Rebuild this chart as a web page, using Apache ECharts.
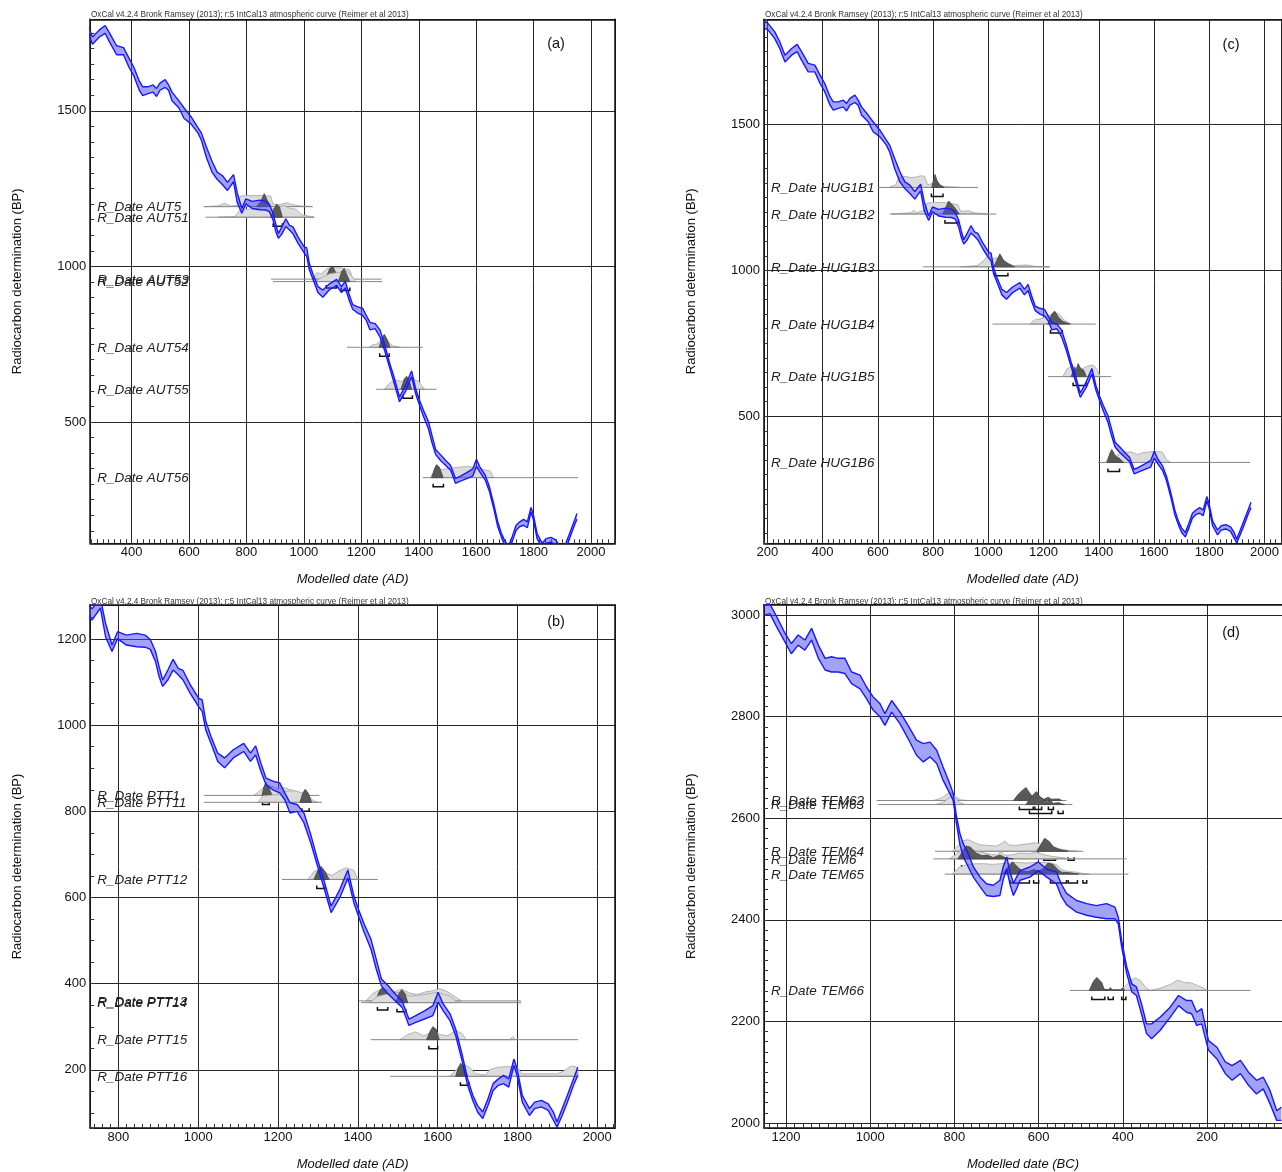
<!DOCTYPE html>
<html><head><meta charset="utf-8">
<script src="https://cdn.jsdelivr.net/npm/echarts@6/dist/echarts.min.js"></script>
<style>html,body{margin:0;padding:0;background:#fff}#c{width:1282px;height:1172px}</style>
</head><body><div id="c"></div>
<script>
// ---------- IntCal13 curve (AD part: panels a,b,c) ----------
const curveAD_year = [190,203,227,245,264,288,308,324,348,372,391,408,427,439,457,475,487,499,517,529,541,565,583,607,631,643,661,680,698,716,734,755,768,784,798,820,846,867,880,893,902,911,924,937,950,962,980,1001,1010,1019,1032,1049,1066,1088,1114,1131,1144,1157,1170,1187,1204,1217,1230,1248,1265,1282,1299,1312,1333,1355,1375,1390,1403,1416,1433,1446,1459,1476,1494,1511,1528,1545,1567,1588,1601,1614,1631,1645,1662,1675,1688,1700,1713,1726,1739,1752,1765,1778,1791,1799,1812,1830,1843,1860,1877,1890,1899,1912,1925,1942,1951];
const curveAD_hi = [1853,1845,1817,1783,1737,1760,1774,1749,1709,1703,1669,1640,1595,1577,1577,1583,1572,1589,1600,1583,1560,1532,1509,1481,1446,1429,1383,1338,1303,1292,1270,1295,1236,1186,1217,1209,1213,1209,1199,1171,1136,1105,1128,1153,1132,1127,1094,1063,1059,1009,974,935,924,943,958,935,952,912,877,870,866,843,820,816,796,746,688,650,580,619,664,604,569,538,503,457,411,395,376,360,318,326,337,349,380,353,330,295,233,179,141,117,102,133,168,179,187,179,225,202,141,110,125,129,121,102,79,110,141,183,206];
const curveAD_lo = [1830,1823,1794,1760,1714,1737,1749,1720,1680,1680,1640,1612,1566,1549,1555,1560,1546,1566,1575,1566,1532,1509,1475,1458,1429,1406,1349,1303,1280,1263,1244,1272,1205,1171,1201,1186,1182,1181,1176,1148,1113,1090,1105,1128,1117,1105,1074,1043,1032,989,958,916,901,924,939,916,931,893,862,850,843,827,796,800,773,727,673,632,565,600,645,588,553,519,480,434,395,376,360,345,303,310,318,326,357,337,314,280,218,164,129,102,87,117,152,164,168,160,210,187,125,94,110,114,106,83,67,94,125,168,187];
// ---------- BC part (panel d), years BC ----------
const curveBC_year = [1250,1238,1222,1202,1187,1171,1155,1139,1123,1107,1092,1076,1060,1044,1024,1009,993,977,965,949,929,910,890,874,858,842,827,811,803,795,787,779,767,755,739,724,708,692,684,676,668,660,652,644,621,601,581,558,546,534,510,486,463,439,419,411,403,391,379,368,356,344,332,312,288,268,249,237,225,213,197,177,157,141,121,102,83,67,51,35,24];
const curveBC_hi = [3020,3022,2997,2964,2944,2961,2951,2974,2941,2915,2918,2915,2915,2888,2882,2859,2839,2826,2806,2832,2809,2783,2754,2747,2750,2734,2701,2668,2649,2603,2570,2550,2530,2504,2484,2471,2468,2478,2505,2524,2495,2472,2485,2497,2504,2514,2500,2494,2470,2452,2438,2432,2428,2432,2425,2405,2359,2307,2274,2268,2235,2195,2195,2208,2228,2251,2241,2241,2218,2225,2162,2149,2120,2113,2123,2100,2084,2090,2064,2024,2031];
const curveBC_lo = [3000,3003,2977,2947,2924,2941,2931,2951,2915,2892,2888,2888,2885,2865,2855,2836,2813,2800,2783,2809,2786,2757,2724,2711,2721,2708,2675,2649,2635,2589,2548,2524,2504,2484,2465,2448,2446,2448,2480,2500,2470,2448,2462,2478,2484,2497,2484,2471,2446,2430,2415,2409,2405,2402,2402,2392,2346,2294,2258,2251,2215,2176,2166,2182,2208,2231,2218,2215,2192,2195,2143,2126,2097,2084,2097,2074,2057,2067,2038,2005,2005];

// ---------- Panel (a) dates ----------
const namesA = ['R_Date AUT5','R_Date AUT51','R_Date AUT53','R_Date AUT52','R_Date AUT54','R_Date AUT55','R_Date AUT56'];
const bpA = [1192,1158,959,951,740,605,321];
const spanA = [[652,1030],[658,1036],[886,1270],[892,1273],[1150,1414],[1252,1462],[1414,1955]];
const lightA = [
 [[652,0],[700,0.05],[725,0.25],[745,0.05],[770,0.1],[778,0.8],[800,0.85],[860,0.85],[885,0.8],[892,0.2],[915,0.15],[940,0.3],[960,0.15],[990,0.05],[1030,0]],
 [[700,0],[760,0.05],[778,0.6],[840,0.65],[880,0.6],[900,0.7],[930,0.9],[950,0.7],[975,0.6],[990,0.2],[1036,0]],
 [[1030,0],[1045,0.5],[1060,0.4],[1080,0.8],[1100,0.9],[1120,0.9],[1145,0.8],[1160,0.7],[1170,0]],
 [[1040,0],[1060,0.3],[1090,0.6],[1120,0.7],[1150,0.8],[1165,0.5],[1180,0]],
 [[1228,0],[1240,0.2],[1255,0.25],[1265,0.5],[1280,0.9],[1295,0.4],[1310,0.1],[1336,0]],
 [[1280,0],[1300,0.5],[1320,0.7],[1340,0.6],[1360,0.9],[1380,0.8],[1400,0.6],[1420,0]],
 [[1440,0],[1460,0.7],[1480,0.6],[1500,0.7],[1520,0.75],[1560,0.85],[1600,0.8],[1630,0.6],[1650,0.5],[1660,0]]
];
const darkA = [
 [[835,0],[850,0.4],[862,1],[872,0.5],[885,0]],
 [[885,0],[895,0.6],[905,1],[915,0.8],[925,0]],
 [[1075,0],[1090,0.8],[1100,1],[1115,0.3],[1125,0]],
 [[1120,0],[1132,0.8],[1140,1],[1150,0.5],[1160,0]],
 [[1262,0],[1272,0.7],[1280,1],[1290,0.6],[1300,0]],
 [[1338,0],[1350,0.8],[1358,1],[1368,0.6],[1375,0]],
 [[1445,0],[1455,0.7],[1462,1],[1472,0.8],[1485,0]]
];
const rangeA = [[[845,880]],[[893,925]],[[1078,1114]],[[1130,1160]],[[1264,1297]],[[1345,1378]],[[1450,1486]]];

// ---------- Panel (b) dates ----------
const namesB = ['R_Date PTT1','R_Date PTT11','R_Date PTT12','R_Date PTT13','R_Date PTT14','R_Date PTT15','R_Date PTT16'];
const bpB = [837,821,642,360,356,270,185];
const spanB = [[1014,1304],[1014,1310],[1210,1450],[1403,1809],[1408,1809],[1432,1952],[1481,1952]];
const lightB = [
 [[1140,0],[1160,0.5],[1170,0.8],[1185,0.7],[1200,0.5],[1215,0.6],[1235,0.4],[1255,0.2],[1270,0]],
 [[1150,0],[1162,0.5],[1180,0.55],[1200,0.6],[1220,0.85],[1240,0.9],[1258,0.75],[1272,0.6],[1290,0.1],[1300,0]],
 [[1275,0],[1290,0.6],[1305,0.8],[1320,0.5],[1335,0.3],[1350,0.6],[1370,0.9],[1390,0.7],[1400,0]],
 [[1420,0],[1435,0.5],[1450,0.8],[1470,0.9],[1490,0.7],[1510,0.9],[1530,0.6],[1550,0.5],[1570,0.7],[1590,0.8],[1605,0.95],[1625,0.7],[1645,0.3],[1660,0]],
 [[1430,0],[1450,0.5],[1480,0.7],[1505,0.8],[1530,0.5],[1560,0.6],[1600,0.8],[1630,0.5],[1650,0]],
 [[1505,0],[1525,0.4],[1545,0.6],[1565,0.3],[1580,0.5],[1590,0.8],[1605,0.4],[1625,0.3],[1645,0.7],[1660,0.5],[1672,0],[1780,0],[1788,0.25],[1796,0]],
 [[1630,0],[1650,0.6],[1665,0.9],[1680,0.7],[1695,0.2],[1720,0.1],[1730,0.5],[1750,0.7],[1780,0.75],[1800,0.7],[1810,0.2],[1840,0.2],[1900,0.2],[1915,0.4],[1935,0.8],[1950,0.7],[1952,0]]
];
const darkB = [
 [[1160,0],[1165,0.7],[1170,1],[1177,0.6],[1185,0]],
 [[1255,0],[1262,0.7],[1268,1],[1276,0.7],[1284,0]],
 [[1290,0],[1300,0.7],[1308,1],[1318,0.6],[1328,0]],
 [[1445,0],[1453,0.7],[1460,1],[1470,0.8],[1480,0]],
 [[1495,0],[1503,0.7],[1510,1],[1518,0.7],[1525,0]],
 [[1572,0],[1582,0.7],[1588,1],[1596,0.8],[1604,0]],
 [[1645,0],[1652,0.7],[1658,1],[1666,0.7],[1675,0]]
];
const rangeB = [[[1161,1178]],[[1260,1278]],[[1297,1318]],[[1449,1475]],[[1498,1520]],[[1578,1600]],[[1657,1679]]];

// ---------- Panel (c) dates ----------
const namesC = ['R_Date HUG1B1','R_Date HUG1B2','R_Date HUG1B3','R_Date HUG1B4','R_Date HUG1B5','R_Date HUG1B6'];
const bpC = [1284,1193,1012,816,636,342];
const spanC = [[601,963],[643,1029],[764,1222],[1015,1389],[1216,1445],[1397,1948]];
const lightC = [
 [[640,0],[665,0.2],[675,0.75],[700,0.85],[720,0.75],[740,0.8],[755,0.9],[770,0.85],[780,0.2],[795,0.3],[830,0.1],[870,0.05],[900,0]],
 [[650,0],[720,0.1],[730,0.3],[740,0.1],[770,0.3],[780,0.85],[820,0.9],[860,0.85],[890,0.7],[900,0.2],[930,0.25],[945,0.1],[1000,0]],
 [[900,0],[960,0.1],[985,0.5],[1000,0.9],[1015,0.6],[1030,0.7],[1045,0.6],[1070,0.3],[1090,0.1],[1140,0.15],[1165,0.05],[1222,0]],
 [[1150,0],[1165,0.3],[1190,0.4],[1210,0.6],[1225,0.7],[1240,0.9],[1255,0.8],[1275,0.3],[1300,0]],
 [[1270,0],[1285,0.6],[1300,0.8],[1320,0.7],[1340,0.6],[1360,0.8],[1380,0.9],[1395,0.5],[1405,0]],
 [[1425,0],[1440,0.6],[1460,0.5],[1480,0.7],[1500,0.8],[1520,0.8],[1540,0.6],[1560,0.75],[1600,0.85],[1630,0.8],[1645,0.2],[1660,0]]
];
const darkC = [
 [[795,0],[802,0.6],[807,1],[815,0.5],[825,0.2],[840,0]],
 [[835,0],[848,0.6],[856,1],[870,0.7],[885,0.3],[895,0]],
 [[1020,0],[1033,0.6],[1042,1],[1055,0.5],[1075,0.2],[1095,0]],
 [[1215,0],[1228,0.7],[1240,1],[1255,0.5],[1270,0.2],[1295,0]],
 [[1300,0],[1312,0.7],[1318,0.5],[1325,1],[1335,0.6],[1345,0.5],[1355,0]],
 [[1430,0],[1440,0.7],[1447,1],[1460,0.5],[1475,0.3],[1490,0]]
];
const rangeC = [[[794,836]],[[843,891]],[[1023,1071]],[[1225,1268]],[[1307,1355]],[[1433,1475]]];

// ---------- Panel (d) dates (years BC) ----------
const namesD = ['R_Date TEM62','R_Date TEM63','R_Date TEM64','R_Date TEM6','R_Date TEM65','R_Date TEM66'];
const bpD = [2635,2627,2535,2520,2490,2261];
const spanD = [[985,534],[981,520],[846,494],[850,391],[823,387],[526,97]];
const lightD = [
 [[850,0],[830,0.2],[818,0.5],[808,0.65],[798,0.3],[785,0.05],[770,0]],
 [[845,0],[825,0.2],[812,0.55],[800,0.6],[790,0.2],[775,0]],
 [[805,0],[792,0.4],[780,0.8],[768,0.9],[755,0.7],[740,0.5],[720,0.45],[700,0.4],[688,0.6],[680,0.8],[672,0.5],[655,0.45],[630,0.55],[612,0.65],[598,0.6],[585,0.45],[565,0.3],[545,0.15],[525,0.05],[505,0]],
 [[812,0],[798,0.3],[782,0.7],[768,0.8],[752,0.6],[735,0.5],[715,0.35],[700,0.3],[690,0.55],[682,0.3],[665,0.3],[645,0.45],[625,0.4],[605,0.5],[590,0.35],[570,0.2],[545,0.1],[520,0]],
 [[805,0],[790,0.5],[772,0.7],[750,0.8],[730,0.8],[710,0.75],[690,0.8],[670,0.85],[650,0.9],[630,0.85],[610,0.9],[590,0.9],[570,0.85],[556,0.7],[546,0.35],[530,0.2],[510,0.15],[495,0.05],[480,0]],
 [[410,0],[395,0.3],[380,0.8],[370,0.95],[360,0.8],[345,0.2],[335,0],[320,0.1],[300,0.3],[285,0.5],[270,0.8],[255,0.6],[240,0.6],[225,0.4],[210,0.2],[200,0]]
];
const darkD = [
 [[660,0],[648,0.5],[638,0.8],[630,1],[622,0.6],[615,0.3],[605,0.5],[598,0.3],[588,0.1],[577,0.25],[570,0.1],[552,0.12],[545,0]],
 [[630,0],[620,0.5],[612,0.8],[605,1],[597,0.6],[588,0.3],[580,0.2],[573,0.35],[565,0.1],[552,0.15],[545,0.05],[538,0]],
 [[605,0],[595,0.5],[586,1],[575,0.75],[565,0.35],[552,0.15],[540,0.05],[530,0]],
 [[792,0],[782,0.5],[772,1],[762,0.9],[748,0.45],[735,0.25],[722,0.3],[708,0.1],[692,0.3],[680,0.1],[660,0]],
 [[685,0],[672,0.6],[662,0.95],[652,0.6],[640,0.25],[625,0.2],[612,0.35],[600,0.25],[590,0.4],[578,0.85],[566,0.75],[556,0.4],[546,0.15],[525,0.1],[505,0]],
 [[480,0],[470,0.7],[462,1],[450,0.6],[445,0.1],[435,0.05],[430,0.2],[425,0.05],[405,0.05],[400,0.2],[395,0]]
];
const rangeD = [[[646,613],[609,593],[577,565]],[[622,569],[554,542]],[[588,560],[530,516]],[[783,738],[733,722],[716,704]],[[668,622],[612,600],[572,534],[530,508],[495,486]],[[474,443],[435,423],[403,393]]];

const HEADER = 'OxCal v4.2.4 Bronk Ramsey (2013); r:5 IntCal13 atmospheric curve (Reimer et al 2013)';
const FONT = '"Liberation Sans", Arial, Helvetica, sans-serif';

const panels = [
 {grid:{left:90.2, top:19.3, width:525, height:524}, x:[256,2084], y:[110,1794], inv:false, xs:200, xm:20, ys:500, ym:50, right:true,
  xname:'Modelled date (AD)', cv:[curveAD_year,curveAD_hi,curveAD_lo], d:[namesA,bpA,spanA,lightA,darkA,rangeA], letter:'(a)', lp:[556,44], hp:[91,15]},
 {grid:{left:90.2, top:605, width:525, height:524}, x:[729.4,2044.8], y:[65,1279], inv:false, xs:200, xm:20, ys:200, ym:50, right:true,
  xname:'Modelled date (AD)', cv:[curveAD_year,curveAD_hi,curveAD_lo], d:[namesB,bpB,spanB,lightB,darkB,rangeB], letter:'(b)', lp:[556,622], hp:[91,601.5]},
 {grid:{left:764, top:19.3, width:518, height:524}, x:[188,2061.8], y:[65,1860], inv:false, xs:200, xm:20, ys:500, ym:50, right:false,
  xname:'Modelled date (AD)', cv:[curveAD_year,curveAD_hi,curveAD_lo], d:[namesC,bpC,spanC,lightC,darkC,rangeC], letter:'(c)', lp:[1231,45], hp:[765,15]},
 {grid:{left:764, top:604.5, width:518, height:523.5}, x:[22.5,1252], y:[1990,3021], inv:true, xs:200, xm:20, ys:200, ym:20, right:false,
  xname:'Modelled date (BC)', cv:[curveBC_year,curveBC_hi,curveBC_lo], d:[namesD,bpD,spanD,lightD,darkD,rangeD], letter:'(d)', lp:[1231,633], hp:[765,601.5]}
];

const grids = [], xAxes = [], yAxes = [], series = [], graphics = [];
const H = 13;
const plain = v => String(v);
const frame = {show:true, onZero:false, lineStyle:{color:'#111', width:1.5}};
panels.forEach((p, k) => {
  grids.push(Object.assign({show:false}, p.grid));
  // x axes: main (labels + grid lines + bottom frame), minor ticks, top frame
  xAxes.push({gridIndex:k, type:'value', position:'bottom', min:p.x[0], max:p.x[1], inverse:p.inv,
    minInterval:p.xs, maxInterval:p.xs, splitNumber:8,
    axisLine:frame, axisTick:{show:false},
    splitLine:{show:true, lineStyle:{color:'#262626', width:1}},
    axisLabel:{fontSize:13, color:'#111', fontFamily:FONT, margin:3, showMinLabel:false, showMaxLabel:false, formatter:plain},
    name:p.xname, nameLocation:'middle', nameGap:30,
    nameTextStyle:{fontSize:13, fontStyle:'italic', color:'#111', fontFamily:FONT}});
  xAxes.push({gridIndex:k, type:'value', position:'bottom', min:p.x[0], max:p.x[1], inverse:p.inv,
    minInterval:p.xm, maxInterval:p.xm, axisLine:{show:false},
    axisTick:{show:true, inside:true, length:4, lineStyle:{color:'#333', width:1}},
    axisLabel:{show:false}, splitLine:{show:false}});
  xAxes.push({gridIndex:k, type:'value', position:'top', min:p.x[0], max:p.x[1], inverse:p.inv,
    axisLine:frame, axisTick:{show:false}, axisLabel:{show:false}, splitLine:{show:false}});
  // y axes: main (labels + grid lines + left frame), minor ticks, right frame
  yAxes.push({gridIndex:k, type:'value', position:'left', min:p.y[0], max:p.y[1],
    minInterval:p.ys, maxInterval:p.ys, splitNumber:5,
    axisLine:frame, axisTick:{show:false},
    splitLine:{show:true, lineStyle:{color:'#262626', width:1}},
    axisLabel:{fontSize:13, color:'#111', fontFamily:FONT, margin:4, showMinLabel:false, showMaxLabel:false, formatter:plain},
    name:'Radiocarbon determination (BP)', nameLocation:'middle', nameGap:66,
    nameTextStyle:{fontSize:13, color:'#111', fontFamily:FONT}});
  yAxes.push({gridIndex:k, type:'value', position:'left', min:p.y[0], max:p.y[1],
    minInterval:p.ym, maxInterval:p.ym, axisLine:{show:false},
    axisTick:{show:true, inside:true, length:4, lineStyle:{color:'#333', width:1}},
    axisLabel:{show:false}, splitLine:{show:false}});
  yAxes.push({gridIndex:k, type:'value', position:'right', min:p.y[0], max:p.y[1], show:p.right,
    axisLine:frame, axisTick:{show:false}, axisLabel:{show:false}, splitLine:{show:false}});

  const [yr, hi, lo] = p.cv;
  const xi = 3*k, yi = 3*k;
  const [names, bp, span, light, dark, rng] = p.d;
  // dates (distributions, baselines, ranges, labels)
  series.push({type:'custom', xAxisIndex:xi, yAxisIndex:yi, z:2, silent:true,
    data: bp.map((v,i)=>[span[i][0], v]),
    renderItem: (params, api) => {
      const i = params.dataIndex; const cs = params.coordSys;
      const X = v => api.coord([v, bp[i]])[0];
      const y0 = api.coord([span[i][0], bp[i]])[1];
      const poly = (prof, fill, stroke) => ({type:'polygon',
        shape:{points: prof.map(q => [X(q[0]), y0 - q[1]*H])},
        style:{fill:fill, stroke:stroke, lineWidth:0.8}});
      const ch = [];
      ch.push(poly(light[i], '#dcdcdc', '#a5a5a5'));
      ch.push({type:'line', shape:{x1:X(span[i][0]), y1:y0, x2:X(span[i][1]), y2:y0}, style:{stroke:'#878787', lineWidth:1}});
      ch.push(poly(dark[i], '#595959', '#444'));
      rng[i].forEach(r => {
        const xa = X(r[0]), xb = X(r[1]);
        ch.push({type:'polyline', shape:{points:[[xa,y0+6],[xa,y0+9],[xb,y0+9],[xb,y0+6]]}, style:{stroke:'#111', lineWidth:1.5, fill:null}});
      });
      ch.push({type:'text', style:{text:names[i], x:cs.x+7, y:y0+1, fontSize:13.5, fontStyle:'italic', fontFamily:FONT,
        fill:'#222', align:'left', verticalAlign:'middle', textAlign:'left', textVerticalAlign:'middle'}});
      return {type:'group', children:ch};
    }});
  // calibration curve band fill (one polygon through the axes' scales, clipped to the grid)
  series.push({type:'custom', xAxisIndex:xi, yAxisIndex:yi, z:3, silent:true, clip:true,
    data:[[yr[0], hi[0]]],
    renderItem: (params, api) => {
      const pts = yr.map((v,i)=>api.coord([v, hi[i]]));
      for (let i = yr.length-1; i >= 0; i--) pts.push(api.coord([yr[i], lo[i]]));
      return {type:'polygon', shape:{points:pts}, style:{fill:'rgba(70,70,240,0.5)', stroke:null}};
    }});
  // band edges
  series.push({type:'line', xAxisIndex:xi, yAxisIndex:yi, z:4, silent:true, symbol:'none',
    data: yr.map((v,i)=>[v, hi[i]]), lineStyle:{color:'#1818ff', width:1.4}});
  series.push({type:'line', xAxisIndex:xi, yAxisIndex:yi, z:4, silent:true, symbol:'none',
    data: yr.map((v,i)=>[v, lo[i]]), lineStyle:{color:'#1818ff', width:1.4}});

  graphics.push({type:'text', x:p.hp[0], y:p.hp[1], z:10,
    style:{text:HEADER, fontSize:8.2, fontFamily:FONT, fill:'#333', align:'left', verticalAlign:'middle', textAlign:'left', textVerticalAlign:'middle'}});
  graphics.push({type:'text', x:p.lp[0], y:p.lp[1], z:10,
    style:{text:p.letter, fontSize:14.5, fontFamily:FONT, fill:'#111', align:'center', verticalAlign:'middle', textAlign:'center', textVerticalAlign:'middle'}});
});

const chart = echarts.init(document.getElementById('c'), null, {renderer:'canvas'});
chart.setOption({animation:false, backgroundColor:'#fff', grid:grids, xAxis:xAxes, yAxis:yAxes, series:series, graphic:graphics});
</script></body></html>
